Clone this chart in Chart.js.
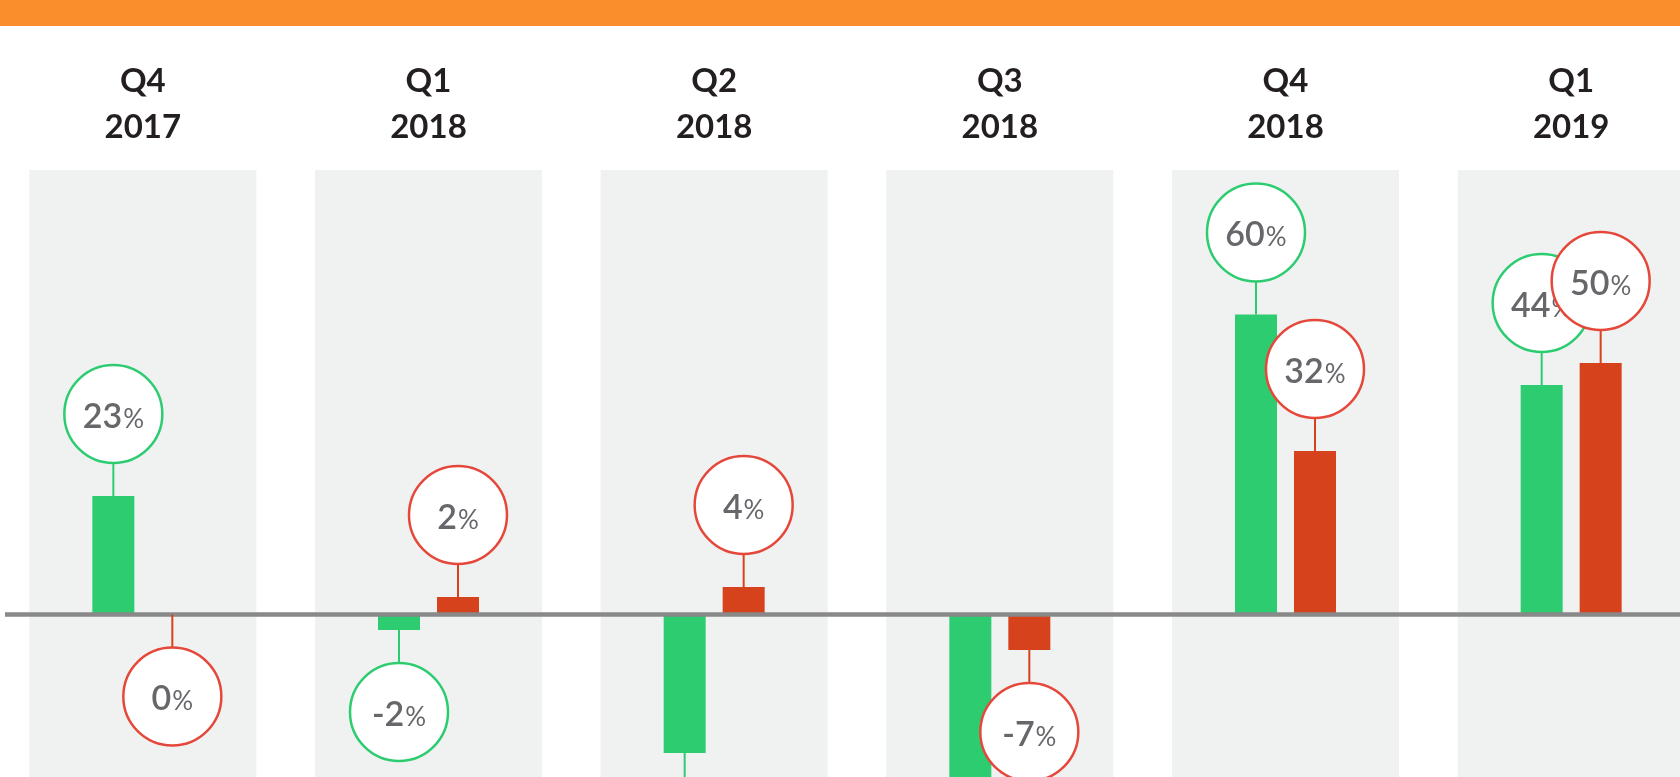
<!DOCTYPE html>
<html lang="en">
<head>
    <meta charset="UTF-8">
    <title>Quarterly growth</title>
    <script src="https://cdn.jsdelivr.net/npm/chart.js"></script>
    <style>
        body {
            margin: 0;
            background: #fff;
            overflow: hidden;
        }

        .top-band {
            position: absolute;
            top: 0;
            left: 0;
            width: 100%;
            height: 26px;
            background: #F98E2B;
            z-index: 2;
        }

        .chart-wrap {
            position: relative;
            width: 1714px;
            height: 777px;
        }
    </style>
</head>
<body>
    <div class="top-band"></div>
    <div class="chart-wrap">
        <canvas id="growthChart"></canvas>
    </div>

    <script>
        // quarters shown along the top
        const quarters = [['Q4', '2017'], ['Q1', '2018'], ['Q2', '2018'], ['Q3', '2018'], ['Q4', '2018'], ['Q1', '2019']];

        // bar heights (% growth)
        const greenValues = [23.7, -3.1, -27.7, -36, 60, 45.9];
        const redValues = [0, 3.5, 5.5, -7.1, 32.7, 50.3];

        // numbers printed in the bubbles
        const greenLabels = ['23', '-2', '-27', '-36', '60', '44'];
        const redLabels = ['0', '2', '4', '-7', '32', '50'];

        const bubbleLabels = [greenLabels, redLabels];
        const ringColors = ['#2ECC71', '#E5483A'];
        const stemColors = ['#2ECC71', '#D6421B'];

        const panelPlugin = {
            id: 'panels',
            beforeDatasetsDraw(chart) {
                const { ctx, chartArea, scales: { x } } = chart;
                const w = (chartArea.right - chartArea.left) / quarters.length * 0.795;
                ctx.save();
                ctx.fillStyle = '#F0F2F1';
                quarters.forEach((q, i) => {
                    const cx = x.getPixelForValue(i);
                    ctx.fillRect(cx - w / 2, chartArea.top, w, chartArea.bottom - chartArea.top);
                });
                ctx.restore();
            }
        };

        const zeroLinePlugin = {
            id: 'zeroLine',
            afterDatasetsDraw(chart) {
                const { ctx, chartArea, scales: { y } } = chart;
                const py = y.getPixelForValue(0);
                ctx.save();
                ctx.strokeStyle = '#898989';
                ctx.lineWidth = 4.5;
                ctx.beginPath();
                ctx.moveTo(chartArea.left + 5, py);
                ctx.lineTo(chartArea.right, py);
                ctx.stroke();
                ctx.restore();
            }
        };

        const bubblePlugin = {
            id: 'bubbles',
            afterDatasetsDraw(chart) {
                const ctx = chart.ctx;
                const r = 49;
                const gap = 82;
                chart.data.datasets.forEach((ds, di) => {
                    const meta = chart.getDatasetMeta(di);
                    meta.data.forEach((bar, i) => {
                        const up = ds.data[i] > 0;
                        const end = bar.y;
                        const cy = up ? end - gap : end + gap;

                        ctx.save();
                        ctx.strokeStyle = stemColors[di];
                        ctx.lineWidth = 2;
                        ctx.beginPath();
                        ctx.moveTo(bar.x, end);
                        ctx.lineTo(bar.x, up ? cy + r : cy - r);
                        ctx.stroke();

                        ctx.beginPath();
                        ctx.arc(bar.x, cy, r, 0, Math.PI * 2);
                        ctx.fillStyle = '#fff';
                        ctx.fill();
                        ctx.strokeStyle = ringColors[di];
                        ctx.lineWidth = 2.5;
                        ctx.stroke();

                        const num = bubbleLabels[di][i];
                        ctx.font = '600 34px Lato';
                        const w1 = ctx.measureText(num).width;
                        ctx.font = '400 26px Lato';
                        const w2 = ctx.measureText('%').width;
                        const x0 = bar.x - (w1 + w2 + 1) / 2;
                        const base = cy + 13.5;
                        ctx.fillStyle = '#67676B';
                        ctx.textAlign = 'left';
                        ctx.textBaseline = 'alphabetic';
                        ctx.font = '600 34px Lato';
                        ctx.fillText(num, x0, base);
                        ctx.font = '400 26px Lato';
                        ctx.fillText('%', x0 + w1 + 1, base);
                        ctx.restore();
                    });
                });
            }
        };

        const ctx = document.getElementById('growthChart').getContext('2d');
        new Chart(ctx, {
            type: 'bar',
            data: {
                labels: quarters,
                datasets: [
                    {
                        label: 'Green',
                        data: greenValues,
                        backgroundColor: '#2ECC71',
                        borderWidth: 0,
                        categoryPercentage: 0.413,
                        barPercentage: 0.712
                    },
                    {
                        label: 'Red',
                        data: redValues,
                        backgroundColor: '#D6421B',
                        borderWidth: 0,
                        categoryPercentage: 0.413,
                        barPercentage: 0.712
                    }
                ]
            },
            options: {
                responsive: true,
                maintainAspectRatio: false,
                animation: false,
                layout: { padding: { top: 26, left: 0, right: 0, bottom: 0 } },
                plugins: {
                    legend: { display: false },
                    tooltip: { enabled: false }
                },
                scales: {
                    x: {
                        position: 'top',
                        grid: { display: false, drawTicks: false },
                        border: { display: false },
                        ticks: {
                            color: '#231F20',
                            font: { family: 'Lato', size: 33, weight: 'bold', lineHeight: 1.38 },
                            padding: 20,
                            autoSkip: false,
                            maxRotation: 0,
                            minRotation: 0
                        },
                        afterFit(scale) {
                            scale.height = 144;
                        }
                    },
                    y: {
                        display: false,
                        min: -32.5,
                        max: 88.9
                    }
                }
            },
            plugins: [panelPlugin, zeroLinePlugin, bubblePlugin]
        });
    </script>
</body>
</html>
